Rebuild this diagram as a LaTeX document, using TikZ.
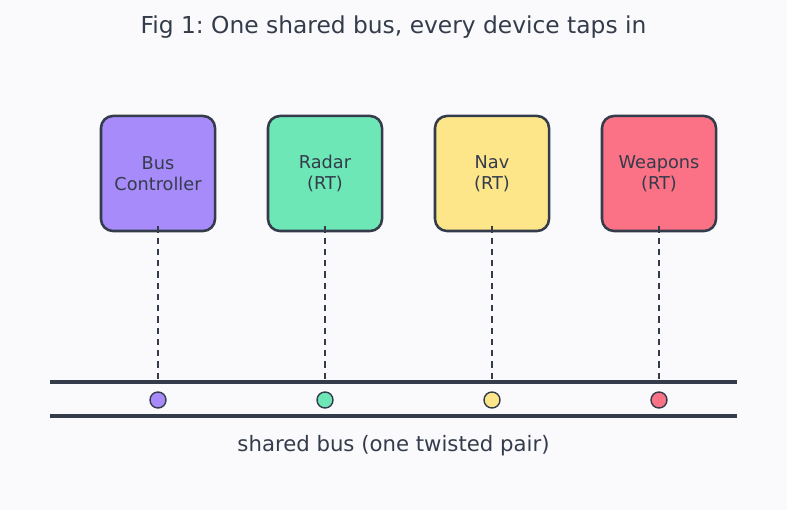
\documentclass[tikz,border=0pt]{standalone}
\usepackage{fontspec}
\setmainfont{DejaVu Sans}
\usepackage{xcolor}
\usetikzlibrary{positioning}
\frenchspacing

\definecolor{ink}{HTML}{343C4B}
\definecolor{bg}{HTML}{FAFAFD}
\definecolor{bcfill}{HTML}{A78BFA}
\definecolor{radarfill}{HTML}{6EE7B7}
\definecolor{navfill}{HTML}{FDE68A}
\definecolor{weapfill}{HTML}{FB7185}

\tikzset{
  device/.style={draw=ink, line width=1.8pt, rounded corners=0.3cm,
    minimum width=2.85cm, minimum height=2.875cm, align=center,
    text=ink, font=\fontsize{12.6}{15}\selectfont},
  tapline/.style={draw=ink, line width=1.4pt, dash pattern=on 4.6pt off 3.4pt},
  busline/.style={draw=ink, line width=2.2pt},
  tapdot/.style={circle, draw=ink, line width=1pt, inner sep=0pt, minimum size=0.4cm},
}

\begin{document}
\begin{tikzpicture}[x=0.025cm, y=-0.025cm]
  \fill[bg] (0,0) rectangle (787,510);
  \useasboundingbox (0,0) rectangle (787,510);

  \node[text=ink, font=\fontsize{16.6}{19}\selectfont] (title) at (393.5,27) {Fig 1: One shared bus, every device taps in};

  % devices
  \node[device, fill=bcfill] (bc) at (158,173.5) {Bus\\Controller};
  \node[device, fill=radarfill] (radar) at (325,173.5) {Radar\\(RT)};
  \node[device, fill=navfill] (nav) at (492,173.5) {Nav\\(RT)};
  \node[device, fill=weapfill] (weap) at (659,173.5) {Weapons\\(RT)};

  % the bus
  \coordinate (busTL) at (50,382);
  \coordinate (busTR) at (737,382);
  \coordinate (busBL) at (50,416);
  \coordinate (busBR) at (737,416);
  \draw[busline] (busTL) -- (busTR);
  \draw[busline] (busBL) -- (busBR);

  \coordinate (t1) at (158,382);
  \coordinate (t2) at (325,382);
  \coordinate (t3) at (492,382);
  \coordinate (t4) at (659,382);
  \draw[tapline] ([yshift=0.15cm]bc.south) -- (t1);
  \draw[tapline] ([yshift=0.15cm]radar.south) -- (t2);
  \draw[tapline] ([yshift=0.15cm]nav.south) -- (t3);
  \draw[tapline] ([yshift=0.15cm]weap.south) -- (t4);

  \node[tapdot, fill=bcfill] (d1) at (158,400) {};
  \node[tapdot, fill=radarfill] (d2) at (325,400) {};
  \node[tapdot, fill=navfill] (d3) at (492,400) {};
  \node[tapdot, fill=weapfill] (d4) at (659,400) {};

  \node[text=ink, font=\fontsize{15.1}{18}\selectfont] (buslabel) at (393.5,446) {shared bus (one twisted pair)};
\end{tikzpicture}
\end{document}
